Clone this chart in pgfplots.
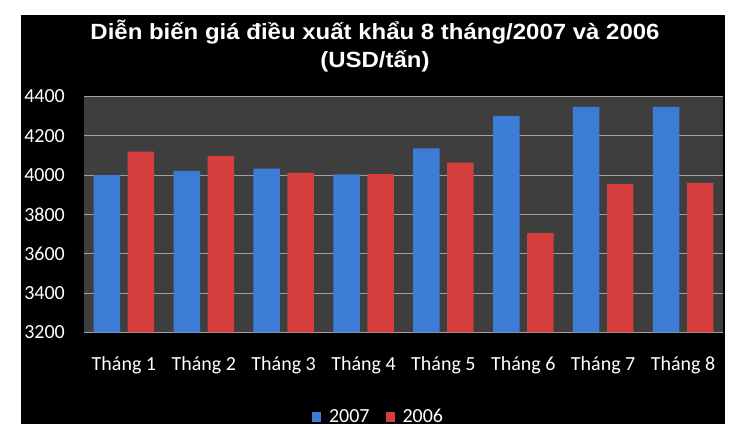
\documentclass[border=0pt]{standalone}
\usepackage{fontspec}
\setmainfont{Carlito}
\newfontfamily\titlefont{Liberation Sans}
\usepackage{graphicx}
\usepackage{pgfplots}
\pgfplotsset{compat=1.18}
\definecolor{plotbg}{RGB}{62,62,62}
\definecolor{gridc}{RGB}{160,160,160}
\definecolor{barblue}{RGB}{60,124,214}
\definecolor{barred}{RGB}{214,62,62}

\begin{document}
\begin{tikzpicture}
\useasboundingbox (0pt,0pt) rectangle (730pt,427pt);
\fill[white] (0pt,0pt) rectangle (730pt,427pt);
\begin{scope}
\clip (21pt,3pt) rectangle (725pt,412pt);
\fill[black] (21pt,3pt) rectangle (725pt,412pt);
\node[font=\titlefont\bfseries\fontsize{22}{26}\selectfont, text=white, anchor=base, inner sep=0pt]
  at (375pt,387.7pt) {\scalebox{1.09}[1]{Diễn biến giá điều xuất khẩu 8 tháng/2007 và 2006}};
\node[font=\titlefont\bfseries\fontsize{22}{26}\selectfont, text=white, anchor=base, inner sep=0pt]
  at (375pt,359.3pt) {\scalebox{1.09}[1]{(USD/tấn)}};
\begin{axis}[
    at={(84pt,94.7pt)}, anchor=south west,
    scale only axis,
    width=639pt, height=235.8pt,
    xmin=0.5, xmax=8.5,
    ymin=3200, ymax=4400,
    ytick={3200,3400,...,4400},
    xtick={1,...,8},
    xticklabels={Tháng 1,Tháng 2,Tháng 3,Tháng 4,Tháng 5,Tháng 6,Tháng 7,Tháng 8},
    axis background/.style={fill=plotbg},
    axis line style={draw=none},
    tick style={draw=none},
    ymajorgrids=true,
    grid style={gridc, line width=0.9pt},
    /pgf/number format/assume math mode=true,
    /pgf/number format/1000 sep={},
    tick label style={font=\fontsize{20}{24}\selectfont, text=white, inner sep=0pt},
    xticklabel style={anchor=base, yshift=-38.7pt},
    yticklabel style={anchor=east, xshift=-19pt},
    legend style={draw=none, fill=none, text=white,
      font=\fontsize{20}{24}\selectfont,
      at={(0.461,-0.359)}, anchor=center,
      legend columns=-1,
      /tikz/every odd column/.append style={column sep=6pt},
      /tikz/every even column/.append style={column sep=14pt}},
    legend image code/.code={\path[#1,draw=none] (0pt,-5pt) rectangle (9pt,5pt);},
  ]
  \addplot[ybar, bar width=26.5pt, bar shift=-17pt, draw=none, fill=barblue] coordinates {
    (1,4000) (2,4022) (3,4033) (4,4004) (5,4136) (6,4301) (7,4347) (8,4347)
  };
  \addlegendentry{2007}
  \addplot[ybar, bar width=26.5pt, bar shift=17pt, draw=none, fill=barred] coordinates {
    (1,4119) (2,4097) (3,4011) (4,4005) (5,4063) (6,3705) (7,3955) (8,3960)
  };
  \addlegendentry{2006}
\end{axis}
\end{scope}
\end{tikzpicture}
\end{document}
